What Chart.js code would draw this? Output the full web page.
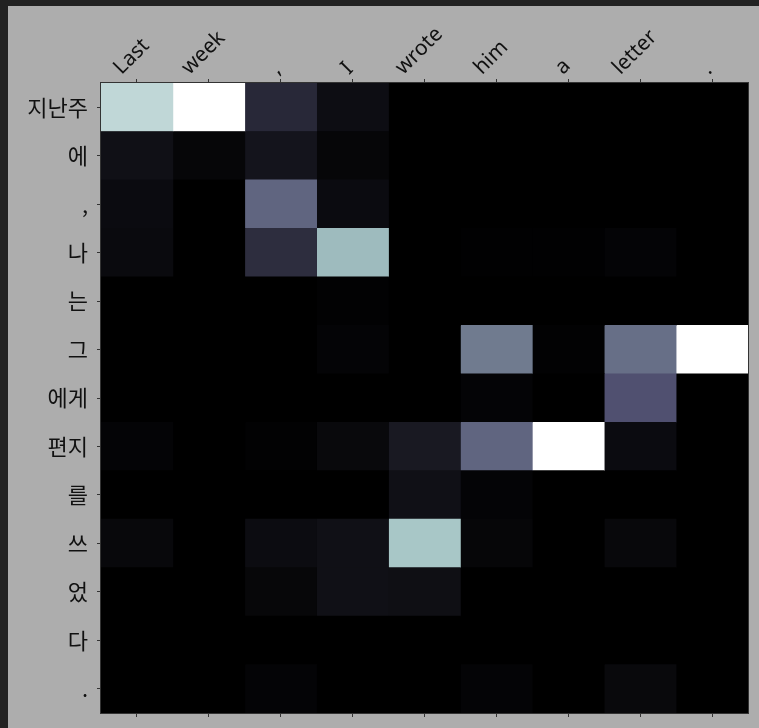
<!DOCTYPE html>
<html>
<head>
<meta charset="utf-8">
<script src="https://cdn.jsdelivr.net/npm/chart.js@4"></script>
<style>
  html, body { margin: 0; padding: 0; background: #222; }
  #wrap { position: absolute; left: 8px; top: 6px; width: 751px; height: 722px; background: #adadad; }
</style>
</head>
<body>
<div id="wrap"><canvas id="attn"></canvas></div>
<script>
// source (english) and target (korean) tokens
const srcWords = ['Last', 'week', ',', 'I', 'wrote', 'him', 'a', 'letter', '.'];
const tgtWords = ['지난주', '에', ',', '나', '는', '그', '에게', '편지', '를', '쓰', '었', '다', '.'];

// attention weights, one row per korean token
const rowJinanju = [0.82, 1.00, 0.18, 0.06, 0, 0, 0, 0, 0];
const rowE       = [0.07, 0.025, 0.09, 0.025, 0, 0, 0, 0, 0];
const rowComma   = [0.05, 0, 0.43, 0.05, 0, 0, 0, 0, 0];
const rowNa      = [0.045, 0, 0.20, 0.71, 0, 0.005, 0.005, 0.02, 0];
const rowNeun    = [0, 0, 0, 0.01, 0, 0, 0, 0, 0];
const rowGeu     = [0, 0, 0, 0.02, 0, 0.50, 0.01, 0.46, 1.00];
const rowEge     = [0, 0, 0, 0, 0, 0.02, 0, 0.36, 0];
const rowPyeonji = [0.02, 0, 0.01, 0.04, 0.11, 0.43, 1.00, 0.05, 0];
const rowReul    = [0, 0, 0, 0, 0.07, 0.02, 0, 0, 0];
const rowSseu    = [0.035, 0, 0.055, 0.07, 0.75, 0.025, 0, 0.035, 0];
const rowEot     = [0, 0, 0.03, 0.07, 0.065, 0, 0, 0, 0];
const rowDa      = [0, 0, 0, 0, 0, 0, 0, 0, 0];
const rowPeriod  = [0, 0, 0.02, 0, 0, 0.02, 0, 0.04, 0];

const weights = [rowJinanju, rowE, rowComma, rowNa, rowNeun, rowGeu, rowEge,
                 rowPyeonji, rowReul, rowSseu, rowEot, rowDa, rowPeriod];

// matplotlib "bone" colormap
function bone(v) {
  let r, g, b;
  r = v < 0.746032 ? 0.652778 * v / 0.746032
                   : 0.652778 + (v - 0.746032) / 0.253968 * 0.347222;
  if (v < 0.365079) g = 0.319444 * v / 0.365079;
  else if (v < 0.746032) g = 0.319444 + (v - 0.365079) / 0.380953 * 0.458334;
  else g = 0.777778 + (v - 0.746032) / 0.253968 * 0.222222;
  b = v < 0.365079 ? 0.444444 * v / 0.365079
                   : 0.444444 + (v - 0.365079) / 0.634921 * 0.555556;
  return 'rgb(' + Math.round(r * 255) + ',' + Math.round(g * 255) + ',' + Math.round(b * 255) + ')';
}

const xFont = { family: "'Noto Sans', 'Noto Sans CJK KR', sans-serif", size: 21 };
const yFont = { family: "'Noto Sans CJK KR', sans-serif", size: 22 };
const spine = '#333';

// one floating-bar dataset per source column
const datasets = srcWords.map((w, j) => ({
  label: w,
  data: tgtWords.map(() => [j, j + 1]),
  backgroundColor: ctx => bone(weights[ctx.dataIndex][j]),
  borderWidth: 0,
  grouped: false,
  barPercentage: 1,
  categoryPercentage: 1
}));

const centerTicks = axis => { axis.ticks = srcWords.map((_, i) => ({ value: i + 0.5 })); };
const noPad = s => { s.paddingTop = 0; s.paddingBottom = 0; s.paddingLeft = 0; s.paddingRight = 0; };

// matplotlib centres the rotated label box over the tick
const centerRotated = {
  id: 'centerRotated',
  beforeDraw(chart) {
    const sc = chart.scales.x;
    const ctx = chart.ctx;
    sc.getLabelItems().forEach(item => {
      ctx.font = item.font.string;
      const w = ctx.measureText(item.label).width;
      const h = item.font.size * 1.15;
      item.options.translation[0] += 4 - (w - h) * 0.3536;
    });
  }
};

// black image background under the cells, and the frame around it
const frame = {
  id: 'frame',
  beforeDatasetsDraw(chart) {
    const a = chart.chartArea, ctx = chart.ctx;
    ctx.save();
    ctx.fillStyle = '#000';
    ctx.fillRect(a.left, a.top, a.right - a.left, a.bottom - a.top);
    ctx.restore();
  },
  afterDraw(chart) {
    const a = chart.chartArea, ctx = chart.ctx;
    ctx.save();
    ctx.strokeStyle = spine;
    ctx.lineWidth = 1;
    ctx.strokeRect(a.left - 0.5, a.top - 0.5, a.right - a.left + 1, a.bottom - a.top + 1);
    ctx.restore();
  }
};

new Chart(document.getElementById('attn'), {
  type: 'bar',
  data: { labels: tgtWords, datasets: datasets },
  options: {
    indexAxis: 'y',
    responsive: true,
    maintainAspectRatio: false,
    animation: false,
    layout: { padding: { left: 0, top: 0, right: 11, bottom: 0 } },
    plugins: { legend: { display: false }, tooltip: { enabled: false } },
    scales: {
      x: {
        type: 'linear', position: 'top', min: 0, max: 9,
        afterBuildTicks: centerTicks,
        afterFit: s => { s.height = 77; noPad(s); },
        ticks: {
          autoSkip: false, minRotation: 45, maxRotation: 45, padding: -1,
          font: xFont, color: '#111',
          callback: (v, i) => srcWords[i]
        },
        grid: { drawOnChartArea: false, drawTicks: true, tickLength: 4, color: spine },
        border: { display: true, color: spine }
      },
      xb: {
        type: 'linear', position: 'bottom', min: 0, max: 9,
        afterBuildTicks: centerTicks,
        afterFit: s => { s.height = 15; noPad(s); },
        ticks: { display: false },
        grid: { drawOnChartArea: false, drawTicks: true, tickLength: 4, color: spine },
        border: { display: true, color: spine }
      },
      y: {
        type: 'category', offset: true,
        afterFit: s => { s.width = 93; noPad(s); },
        ticks: { autoSkip: false, padding: 9, font: yFont, color: '#111' },
        grid: { offset: false, drawOnChartArea: false, drawTicks: true, tickLength: 4, color: spine },
        border: { display: true, color: spine }
      }
    }
  },
  plugins: [centerRotated, frame]
});
</script>
</body>
</html>
